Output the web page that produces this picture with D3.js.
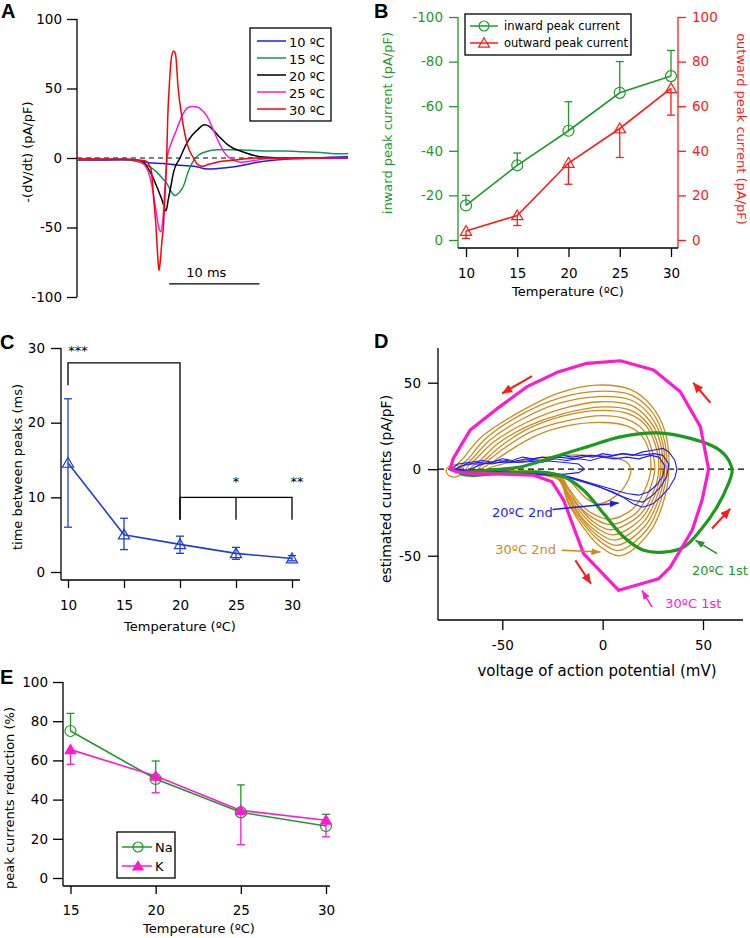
<!DOCTYPE html>
<html>
<head>
<meta charset="utf-8">
<script src="https://cdn.jsdelivr.net/npm/d3@7"></script>
<style>
body { margin: 0; background: #fff; }
svg { font-family: "DejaVu Sans", sans-serif; font-size: 13px; }
</style>
</head>
<body>
<svg id="fig" width="750" height="938"></svg>
<script>
// ---------- data ----------
// A: -(dV/dt) traces, [time (ms), pA/pF]
const legendA = ["10 ºC", "15 ºC", "20 ºC", "25 ºC", "30 ºC"]
const trace10 = [[0,-1.5],[3,-1.5],[5,-1],[7,-2],[8,-3.5],[9.5,-4],[11,-5],[13,-6],[14.5,-8],[16.5,-7],[18.5,-5],[20,-3],[22,-1.5],[24,-0.5],[26,0],[28,0.5],[30,1]]
const trace15 = [[0,-1],[5,-1],[7,-3],[8,-6],[8.8,-10],[9.5,-15],[10.1,-20],[10.5,-25],[10.85,-27],[11.3,-25],[11.8,-20],[12.3,-10],[13.1,0],[14,4],[15.5,6],[17.3,6],[19,5.5],[21,5],[23,5],[25,4.5],[27,4],[28.5,3],[30,3]]
const trace20 = [[0,-1],[6,-1],[7.3,-3],[8.1,-10],[8.8,-20],[9.4,-30],[9.86,-38],[10.1,-30],[10.4,-20],[10.7,-10],[11.4,0],[12.1,10],[12.7,16],[13.3,20],[14.1,24],[14.6,23],[15.1,20],[15.8,15],[16.6,10],[17.3,7],[18.1,5],[19.5,2],[21,0.5],[23,0],[30,0]]
const trace25 = [[0,-1],[6,-1],[7.3,-4],[8,-12],[8.3,-20],[8.6,-32],[8.8,-40],[9.05,-50],[9.3,-53],[9.45,-48],[9.56,-40],[9.75,-20],[9.97,0],[10.4,10],[11,20],[11.6,30],[12.2,36],[12.8,37],[13.4,36.5],[13.9,34],[14.4,30],[15.1,20],[15.8,10],[16.3,4],[16.9,0],[17.5,-2],[18.1,-3],[19.5,-2],[21,-0.5],[30,0]]
const trace30 = [[0,-0.5],[6,-1],[7.5,-2],[8.2,-8],[8.5,-30],[8.75,-50],[8.95,-72],[9.08,-81],[9.25,-72],[9.4,-60],[9.56,-50],[9.75,-25],[9.93,0],[10.05,30],[10.2,50],[10.45,72],[10.7,77],[10.9,75],[11.2,50],[11.6,30],[12.2,10],[12.9,0],[13.4,-5],[13.9,-6],[14.6,-4.5],[15.5,-3],[16.6,-2],[18,-1],[20,0],[30,0]]
const scaleBar = { start: 10.2, length: 10, level: -90.6, label: "10 ms" }

// B: peak currents vs temperature
const temps = [10, 15, 20, 25, 30]
const inwardMean = [-15.5, -33.5, -49, -66, -73.5]
const inwardErr = [-20, -39, -62, -80, -85]
const outwardMean = [4, 11, 34.5, 50, 68]
const outwardErr = [0.7, 6.5, 25, 37, 56]

// C: time between peaks
const peakGap = [14.6, 5.0, 3.7, 2.5, 1.8]
const peakGapHi = [23.2, 7.2, 4.8, 3.3, 2.2]
const peakGapLo = [6.0, 3.0, 2.5, 1.7, 1.5]
const brackets = [[[10,25],[10,28],[20,28],[20,7]], [[20,7],[20,10],[30,10],[30,7]], [[25,10],[25,7]]]
const stars = [[10, "***", 30], [25, "*", 12.5], [30, "**", 12.5]]

// D: phase plots, [mV, pA/pF]
const loop30first = [[-76,0],[-74.5,6],[-71,13],[-66,22.6],[-52.6,35],[-37.7,47.7],[-22.7,56],[-7.8,61.2],[8.8,62.7],[25.4,57.3],[38.7,44.8],[48.7,24.5],[52.8,0],[49.5,-18],[44.6,-35.3],[33.7,-56.6],[27.9,-63.3],[8,-70],[-9.5,-48.8],[-14.5,-33.4],[-19.4,-18],[-25.2,-7.3],[-34.4,-3.5],[-49.3,-2.9],[-66,-2.5],[-72.6,-1.6]]
const loop20first = [[-71,-2.5],[-57.6,-0.6],[-41,1.3],[-24.4,7.1],[-7.8,12.9],[8.8,18.7],[27.1,21],[43.7,17.8],[57,12],[62.8,5.2],[64.5,-1],[62.8,-8],[57,-21.8],[48.7,-35.3],[40.4,-45],[30.4,-47.9],[20.4,-46.9],[10.5,-39.2],[0.5,-25.7],[-9.5,-12.2],[-19.4,-4.4],[-32.7,-1.6],[-49.3,-2.1],[-66,-3.5]]
const loops30second = [
  [[-74,0],[-69,7],[-60,19],[-40,34],[-22,44],[-3,48.6],[14,46],[24,37],[31,22],[33,0],[30,-20],[23,-37],[9,-50],[-2,-44],[-10,-33],[-17,-20],[-22,-6],[-35,-3],[-55,-2]],
  [[-72,0],[-67,6],[-58,18],[-40,32],[-22,41],[-3,45],[14,43],[24,34],[30,20],[32,0],[29,-18],[22,-35],[8,-47],[-2,-41],[-10,-31],[-17,-19],[-22,-6],[-36,-3],[-55,-2]],
  [[-70,0],[-65,6],[-56,17],[-40,29],[-22,38],[-2,42],[14,40],[23,32],[29,19],[31,0],[28,-17],[21,-33],[7,-44],[-3,-38],[-11,-28],[-17,-17],[-22,-5],[-36,-3],[-55,-2]],
  [[-68,0],[-63,6],[-54,16],[-38,27],[-20,35],[-1,39],[14,37],[22,30],[28,18],[30,0],[27,-16],[20,-31],[6,-41],[-3,-36],[-11,-27],[-17,-16],[-22,-5],[-36,-3],[-55,-2]],
  [[-66,0],[-61,5],[-52,15],[-37,25],[-20,32],[0,36],[14,34],[22,27],[27,16],[29,0],[26,-15],[19,-29],[5,-38],[-4,-33],[-11,-25],[-17,-15],[-22,-5],[-36,-3],[-55,-2]],
  [[-64,0],[-59,5],[-50,14],[-36,24],[-19,31],[0,34],[13,32],[21,26],[26,15],[28,0],[25,-14],[18,-27],[4,-35],[-4,-31],[-11,-23],[-17,-14],[-22,-4],[-36,-3],[-55,-2]],
  [[-62,0],[-57,5],[-48,13],[-35,22],[-18,28],[0,31],[12,29],[20,23],[24,13],[26,0],[23,-13],[17,-25],[4,-32],[-5,-28],[-12,-21],[-17,-12],[-22,-4],[-36,-3],[-55,-2]],
  [[-60,0],[-55,4],[-46,11],[-34,19],[-18,25],[0,27],[12,25],[19,20],[23,11],[24,0],[21,-12],[15,-23],[3,-29],[-6,-25],[-12,-19],[-17,-11],[-22,-3],[-36,-3],[-55,-2]],
  [[-58,0],[-50,3],[-35,6],[-20,8],[-5,8],[5,7],[12,4],[14,0],[12,-8],[6,-16],[-2,-20],[-8,-17],[-13,-11],[-18,-5],[-25,-2],[-40,-1]],
  [[-78,-1],[-76,2],[-72,2],[-70,-1],[-72,-4],[-76,-4]]
]
const loops20second = [
  [[-76,0],[-72,3],[-66,4],[-60,5],[-55,4],[-50,6],[-45,5],[-40,7],[-35,6],[-30,7],[-25,6],[-20,8],[-15,7],[-10,8],[-5,7],[0,9],[5,8],[10,9],[15,8],[20,10],[25,11],[30,12],[33,10],[36,5],[37,0],[36,-5],[33,-11],[29,-16],[25,-20],[20,-22],[15,-20],[10,-16],[5,-13],[0,-11],[-5,-9],[-10,-7],[-15,-5],[-20,-4],[-30,-3],[-40,-2],[-55,-1],[-65,-1]],
  [[-75,-1],[-70,2],[-62,4],[-55,3],[-48,5],[-42,4],[-36,5],[-30,4],[-24,6],[-18,5],[-12,6],[-6,5],[0,7],[6,6],[12,7],[18,6],[24,8],[28,7],[31,2],[30,-4],[27,-9],[23,-13],[18,-15],[12,-14],[6,-12],[0,-10],[-6,-8],[-12,-6],[-18,-4],[-26,-3],[-36,-2],[-50,-1]],
  [[-74,0],[-68,3],[-60,3],[-52,5],[-46,4],[-38,6],[-30,5],[-22,7],[-14,6],[-6,8],[2,7],[10,9],[18,8],[26,9],[30,8],[33,3],[32,-4],[29,-10],[25,-15],[20,-19],[15,-18],[10,-16],[4,-13],[-2,-10],[-8,-8],[-14,-6],[-20,-4],[-30,-3],[-45,-2]],
  [[-66,0],[-60,3],[-50,4],[-40,4],[-30,5],[-20,4],[-12,3],[-9,0],[-12,-2],[-20,-3],[-35,-2],[-50,-1]]
]
const redArrows = [[[-35.2,53.8],[-50.1,43.8]], [[53.7,38.4],[45.1,50]], [[54.5,-34.3],[63.6,-22.8]], [[-13.6,-52.7],[-5.8,-66.2]]]
const notes = [
  { text: "20ºC 2nd", at: [-55.1,-24.9], from: [-25,-23.3], to: [8,-19.5], key: "blue" },
  { text: "30ºC 2nd", at: [-53.5,-46.3], from: [-20.3,-46.9], to: [-1.1,-47.9], key: "orange" },
  { text: "20ºC 1st", at: [44.5,-58.8], from: [57,-48.8], to: [46.2,-41.1], key: "green" },
  { text: "30ºC 1st", at: [31.2,-77.4], from: [24.6,-79.7], to: [19.6,-70], key: "magenta" }
]

// E: peak current reduction
const tempsE = [15, 20, 25, 30]
const naMean = [75, 50.5, 33.5, 26.5]
const naErr = [84, 59.7, 47.5, 32.5]
const kMean = [65.5, 52, 34.5, 29.5]
const kErr = [58, 43.5, 17, 21]

// ---------- styling ----------
const colA = ["#1a1aff", "#10994a", "#000000", "#ff1ad9", "#ff0000"]
const colD = { blue: "#1a1aff", orange: "#d08a1a", green: "#1d9a1d", magenta: "#ff1ad0" }
const GREEN = "#1f9a2a", RED = "#ff1a1a", BLUE = "#1f3fd8", PINK = "#ff1ad0"

const svg = d3.select("#fig")

const defs = svg.append("defs")
function arrowHead(id, color, w, l) {
    defs.append("marker").attr("id", id)
        .attr("viewBox", `0 -${w} ${l} ${2 * w}`)
        .attr("refX", l).attr("refY", 0)
        .attr("markerUnits", "userSpaceOnUse")
        .attr("markerWidth", l).attr("markerHeight", 2 * w)
        .attr("orient", "auto")
        .append("path").attr("d", `M0,-${w}L${l},0L0,${w}Z`).attr("fill", color)
}

function yAxis(scale, x, ticks, size, pad, color, side = "left") {
    const ax = svg.append("g").attr("transform", `translate(${x},0)`)
        .call((side === "left" ? d3.axisLeft(scale) : d3.axisRight(scale))
            .tickValues(ticks).tickSize(size).tickPadding(pad).tickFormat(d => String(d)))
    ax.select(".domain").remove()
    ax.attr("font-family", null).attr("font-size", 13.5)
    ax.selectAll("line").attr("stroke", color).attr("stroke-width", 1.3)
    ax.selectAll("text").attr("fill", color)
    return ax
}
function xAxis(scale, y, ticks, size, pad) {
    const ax = svg.append("g").attr("transform", `translate(0,${y})`)
        .call(d3.axisBottom(scale).tickValues(ticks).tickSize(size).tickPadding(pad).tickFormat(d => String(d)))
    ax.select(".domain").remove()
    ax.attr("font-family", null).attr("font-size", 13.5)
    ax.selectAll("line").attr("stroke", "#000").attr("stroke-width", 1.3)
    return ax
}
function rule(x1, y1, x2, y2, color = "#000", w = 1.3) {
    return svg.append("line").attr("x1", x1).attr("y1", y1).attr("x2", x2).attr("y2", y2)
        .attr("stroke", color).attr("stroke-width", w)
}
function vtitle(x, y, text, color = "#000", rot = -90) {
    return svg.append("text").attr("transform", `translate(${x},${y}) rotate(${rot})`)
        .attr("text-anchor", "middle").attr("dominant-baseline", "central")
        .attr("fill", color).text(text)
}
function htitle(x, y, text) {
    return svg.append("text").attr("x", x).attr("y", y).attr("text-anchor", "middle").text(text)
}
function letter(x, y, t) {
    svg.append("text").attr("x", x).attr("y", y).attr("font-family", "Liberation Sans, Arial, sans-serif")
        .attr("font-weight", "bold").attr("font-size", 20).text(t)
}

// ---------- A ----------
{
    const x = d3.scaleLinear().domain([0, 30]).range([77, 348])
    const y = d3.scaleLinear().domain([-100, 100]).range([297, 19])
    rule(77, y(100), 77, y(-100))
    yAxis(y, 77, [-100, -50, 0, 50, 100], 10, 5, "#000")
    vtitle(27, 152, "-(dV/dt) (pA/pF)")
    letter(1, 18, "A")

    rule(x(0), y(0), x(30), y(0), "#000", 1.2).attr("stroke-dasharray", "5,4")

    const line = d3.line().x(d => x(d[0])).y(d => y(d[1])).curve(d3.curveMonotoneX)
    const traces = [trace10, trace15, trace20, trace25, trace30]
    svg.append("g").selectAll("path").data(traces).join("path")
        .attr("d", line).attr("fill", "none")
        .attr("stroke", (d, i) => colA[i]).attr("stroke-width", 1.5)

    rule(x(scaleBar.start), y(scaleBar.level), x(scaleBar.start + scaleBar.length), y(scaleBar.level))
    svg.append("text").attr("x", x(scaleBar.start + scaleBar.length / 2) - 8).attr("y", y(scaleBar.level) - 7)
        .attr("text-anchor", "middle").text(scaleBar.label)

    svg.append("rect").attr("x", 250).attr("y", 28).attr("width", 81).attr("height", 93)
        .attr("fill", "#fff").attr("stroke", "#000").attr("stroke-width", 1.3)
    const lg = svg.append("g").selectAll("g").data(legendA).join("g")
        .attr("transform", (d, i) => `translate(257,${41 + i * 17})`)
    lg.append("line").attr("x2", 29).attr("stroke", (d, i) => colA[i]).attr("stroke-width", 1.5)
    lg.append("text").attr("x", 32).attr("dominant-baseline", "central").attr("dy", 1).text(d => d)
}

// ---------- B ----------
{
    const x = d3.scaleLinear().domain([10, 30]).range([466, 671])
    const yL = d3.scaleLinear().domain([0, -100]).range([240, 17])
    const yR = d3.scaleLinear().domain([0, 100]).range([240, 17])
    rule(458, 17, 458, 248, GREEN)
    rule(678, 17, 678, 248, RED)
    rule(458, 248, 678, 248)
    yAxis(yL, 458, [0, -20, -40, -60, -80, -100], 9, 6, GREEN)
    yAxis(yR, 678, [0, 20, 40, 60, 80, 100], 8, 6, RED, "right")
    xAxis(x, 248, temps, 9, 11)
    htitle(568, 296, "Temperature (ºC)")
    vtitle(387, 123, "inward peak current (pA/pF)", GREEN)
    vtitle(741, 129, "outward peak current (pA/pF)", RED, 90)
    letter(374, 18, "B")

    const g = svg.append("g")
    temps.forEach((t, i) => {
        g.append("line").attr("x1", x(t)).attr("x2", x(t)).attr("y1", yL(inwardMean[i])).attr("y2", yL(inwardErr[i]))
            .attr("stroke", GREEN).attr("stroke-width", 1.3)
        g.append("line").attr("x1", x(t) - 4).attr("x2", x(t) + 4).attr("y1", yL(inwardErr[i])).attr("y2", yL(inwardErr[i]))
            .attr("stroke", GREEN).attr("stroke-width", 1.3)
        g.append("line").attr("x1", x(t)).attr("x2", x(t)).attr("y1", yR(outwardMean[i])).attr("y2", yR(outwardErr[i]))
            .attr("stroke", RED).attr("stroke-width", 1.3)
        g.append("line").attr("x1", x(t) - 4).attr("x2", x(t) + 4).attr("y1", yR(outwardErr[i])).attr("y2", yR(outwardErr[i]))
            .attr("stroke", RED).attr("stroke-width", 1.3)
    })
    g.append("path").datum(temps.map((t, i) => [x(t), yL(inwardMean[i])]))
        .attr("d", d3.line()).attr("fill", "none").attr("stroke", GREEN).attr("stroke-width", 1.6)
    g.append("path").datum(temps.map((t, i) => [x(t), yR(outwardMean[i])]))
        .attr("d", d3.line()).attr("fill", "none").attr("stroke", RED).attr("stroke-width", 1.6)
    g.selectAll("circle").data(inwardMean).join("circle")
        .attr("cx", (d, i) => x(temps[i])).attr("cy", d => yL(d)).attr("r", 5.5)
        .attr("fill", "none").attr("stroke", GREEN).attr("stroke-width", 1.2)
    g.selectAll("path.tri").data(outwardMean).join("path").attr("class", "tri")
        .attr("transform", (d, i) => `translate(${x(temps[i])},${yR(d) + 1})`)
        .attr("d", d3.symbol(d3.symbolTriangle, 55)).attr("fill", "none").attr("stroke", RED).attr("stroke-width", 1.2)

    svg.append("rect").attr("x", 465).attr("y", 14).attr("width", 166).attr("height", 41)
        .attr("fill", "#fff").attr("stroke", "#000").attr("stroke-width", 1.3)
    const items = [["inward peak current", GREEN, "c"], ["outward peak current", RED, "t"]]
    items.forEach(([txt, c, m], i) => {
        const r = svg.append("g").attr("transform", `translate(470,${26 + i * 17})`)
        r.append("line").attr("x2", 28).attr("stroke", c).attr("stroke-width", 1.5)
        if (m === "c") r.append("circle").attr("cx", 14).attr("r", 5).attr("fill", "none").attr("stroke", c).attr("stroke-width", 1.2)
        else r.append("path").attr("transform", "translate(14,1)").attr("d", d3.symbol(d3.symbolTriangle, 50))
            .attr("fill", "none").attr("stroke", c).attr("stroke-width", 1.2)
        r.append("text").attr("x", 34).attr("dominant-baseline", "central").attr("font-size", 11.5).text(txt)
    })
}

// ---------- C ----------
{
    const x = d3.scaleLinear().domain([10, 30]).range([68, 292])
    const y = d3.scaleLinear().domain([0, 30]).range([572, 348])
    rule(61, 348, 61, 580)
    rule(61, 580, 300, 580)
    yAxis(y, 61, [0, 10, 20, 30], 10, 6, "#000")
    xAxis(x, 580, temps, 8, 12)
    htitle(180, 631, "Temperature (ºC)")
    vtitle(17, 467, "time between peaks (ms)")
    letter(0, 349, "C")

    const bl = d3.line().x(d => x(d[0])).y(d => y(d[1]))
    svg.append("g").selectAll("path").data(brackets).join("path")
        .attr("d", bl).attr("fill", "none").attr("stroke", "#000").attr("stroke-width", 1.3)
    svg.append("g").selectAll("text").data(stars).join("text")
        .attr("x", d => x(d[0]) + (d[1].length - 1) * 5).attr("y", d => y(d[2]) + 7)
        .attr("text-anchor", "middle").attr("fill", "#000").text(d => d[1])

    const g = svg.append("g")
    temps.forEach((t, i) => {
        g.append("line").attr("x1", x(t)).attr("x2", x(t)).attr("y1", y(peakGapLo[i])).attr("y2", y(peakGapHi[i]))
            .attr("stroke", BLUE).attr("stroke-width", 1.3)
        ;[peakGapLo[i], peakGapHi[i]].forEach(v =>
            g.append("line").attr("x1", x(t) - 4).attr("x2", x(t) + 4).attr("y1", y(v)).attr("y2", y(v))
                .attr("stroke", BLUE).attr("stroke-width", 1.3))
    })
    g.append("path").datum(temps.map((t, i) => [x(t), y(peakGap[i])]))
        .attr("d", d3.line()).attr("fill", "none").attr("stroke", BLUE).attr("stroke-width", 1.6)
    g.selectAll("path.tri").data(peakGap).join("path").attr("class", "tri")
        .attr("transform", (d, i) => `translate(${x(temps[i])},${y(d) + 1})`)
        .attr("d", d3.symbol(d3.symbolTriangle, 55)).attr("fill", "none").attr("stroke", BLUE).attr("stroke-width", 1.2)
}

// ---------- D ----------
{
    const x = d3.scaleLinear().domain([-50, 50]).range([502.3, 703])
    const y = d3.scaleLinear().domain([-50, 50]).range([555.7, 382.7])
    rule(438, 348, 438, 620)
    rule(438, 620, 743, 620)
    yAxis(y, 438, [-50, 0, 50], 10, 7, "#000")
    xAxis(x, 620, [-50, 0, 50], 10, 10)
    htitle(597, 676, "voltage of action potential (mV)").attr("font-size", 15)
    vtitle(386, 489, "estimated currents (pA/pF)").attr("font-size", 14)
    letter(374, 348, "D")

    svg.append("line").attr("x1", 438).attr("x2", 745).attr("y1", y(0)).attr("y2", y(0))
        .attr("stroke", "#000").attr("stroke-width", 1.2).attr("stroke-dasharray", "6,4")

    const closed = d3.line().x(d => x(d[0])).y(d => y(d[1])).curve(d3.curveCatmullRomClosed.alpha(0.5))
    const poly = d3.line().x(d => x(d[0])).y(d => y(d[1])).curve(d3.curveLinearClosed)
    svg.append("g").selectAll("path").data(loops30second).join("path")
        .attr("d", closed).attr("fill", "none").attr("stroke", colD.orange).attr("stroke-width", 1.3)
    svg.append("g").selectAll("path").data(loops20second).join("path")
        .attr("d", poly).attr("fill", "none").attr("stroke", colD.blue).attr("stroke-width", 1.1)
    svg.append("path").datum(loop20first).attr("d", closed)
        .attr("fill", "none").attr("stroke", colD.green).attr("stroke-width", 3.2)
    svg.append("path").datum(loop30first).attr("d", poly)
        .attr("fill", "none").attr("stroke", colD.magenta).attr("stroke-width", 3.2).attr("stroke-linejoin", "round")

    arrowHead("hRed", "#ff1a1a", 4.5, 10)
    svg.append("g").selectAll("line").data(redArrows).join("line")
        .attr("x1", d => x(d[0][0])).attr("y1", d => y(d[0][1]))
        .attr("x2", d => x(d[1][0])).attr("y2", d => y(d[1][1]))
        .attr("stroke", "#ff1a1a").attr("stroke-width", 2).attr("marker-end", "url(#hRed)")

    notes.forEach(n => {
        arrowHead("h" + n.key, colD[n.key], 3.5, 9)
        svg.append("line").attr("x1", x(n.from[0])).attr("y1", y(n.from[1]))
            .attr("x2", x(n.to[0])).attr("y2", y(n.to[1]))
            .attr("stroke", colD[n.key]).attr("stroke-width", 1.5).attr("marker-end", `url(#h${n.key})`)
        svg.append("text").attr("x", x(n.at[0])).attr("y", y(n.at[1]))
            .attr("dominant-baseline", "central").attr("fill", colD[n.key]).text(n.text)
    })
}

// ---------- E ----------
{
    const x = d3.scaleLinear().domain([15, 30]).range([70.5, 326])
    const y = d3.scaleLinear().domain([0, 100]).range([878, 682])
    rule(63, 682, 63, 886)
    rule(63, 886, 330, 886)
    yAxis(y, 63, [0, 20, 40, 60, 80, 100], 10, 5, "#000")
    xAxis(x, 886, tempsE, 8, 11)
    htitle(199, 933, "Temperature (ºC)")
    vtitle(9, 798, "peak currents reduction (%)")
    letter(0, 684, "E")

    const g = svg.append("g")
    tempsE.forEach((t, i) => {
        ;[[naMean[i], naErr[i], GREEN], [kMean[i], kErr[i], PINK]].forEach(([m, e, c]) => {
            g.append("line").attr("x1", x(t)).attr("x2", x(t)).attr("y1", y(m)).attr("y2", y(e))
                .attr("stroke", c).attr("stroke-width", 1.3)
            g.append("line").attr("x1", x(t) - 4).attr("x2", x(t) + 4).attr("y1", y(e)).attr("y2", y(e))
                .attr("stroke", c).attr("stroke-width", 1.3)
        })
    })
    g.append("path").datum(tempsE.map((t, i) => [x(t), y(naMean[i])]))
        .attr("d", d3.line()).attr("fill", "none").attr("stroke", GREEN).attr("stroke-width", 1.6)
    g.append("path").datum(tempsE.map((t, i) => [x(t), y(kMean[i])]))
        .attr("d", d3.line()).attr("fill", "none").attr("stroke", PINK).attr("stroke-width", 1.6)
    g.selectAll("circle").data(naMean).join("circle")
        .attr("cx", (d, i) => x(tempsE[i])).attr("cy", d => y(d)).attr("r", 5.5)
        .attr("fill", "none").attr("stroke", GREEN).attr("stroke-width", 1.2)
    g.selectAll("path.tri").data(kMean).join("path").attr("class", "tri")
        .attr("transform", (d, i) => `translate(${x(tempsE[i])},${y(d) + 1})`)
        .attr("d", d3.symbol(d3.symbolTriangle, 70)).attr("fill", PINK)

    svg.append("rect").attr("x", 117).attr("y", 832).attr("width", 58).attr("height", 46)
        .attr("fill", "#fff").attr("stroke", "#000").attr("stroke-width", 1.3)
    const items = [["Na", GREEN, "c"], ["K", PINK, "t"]]
    items.forEach(([txt, c, m], i) => {
        const r = svg.append("g").attr("transform", `translate(122,${847 + i * 19})`)
        r.append("line").attr("x2", 30).attr("stroke", c).attr("stroke-width", 1.5)
        if (m === "c") r.append("circle").attr("cx", 16).attr("r", 5).attr("fill", "none").attr("stroke", c).attr("stroke-width", 1.2)
        else r.append("path").attr("transform", "translate(16,1)").attr("d", d3.symbol(d3.symbolTriangle, 65)).attr("fill", c)
        r.append("text").attr("x", 33).attr("dominant-baseline", "central").text(txt)
    })
}
</script>
</body>
</html>
